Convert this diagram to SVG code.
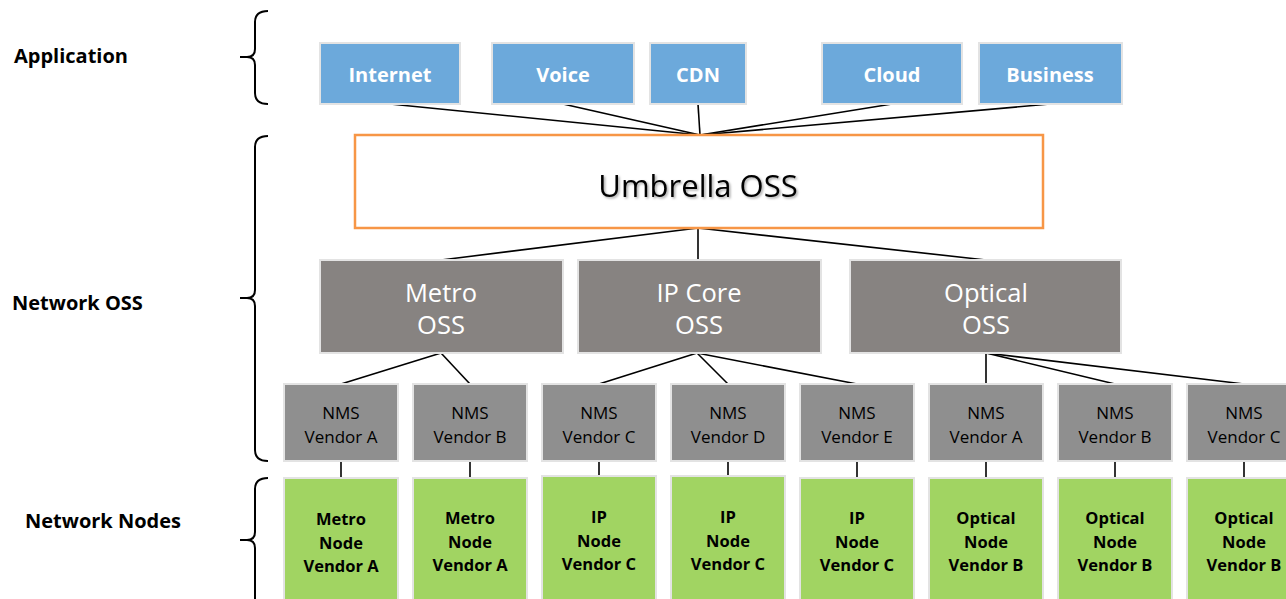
<svg xmlns="http://www.w3.org/2000/svg" width="1286" height="599" viewBox="0 0 1286 599">
<style>
.lbl{font-family:"Open Sans","Liberation Sans",sans-serif;font-weight:bold;font-size:20px;fill:#000}
.app rect{fill:#6CA9DB;stroke:#E3E3E3;stroke-width:2}
.app text{font-family:"Open Sans","Liberation Sans",sans-serif;font-weight:bold;font-size:20px;fill:#fff;text-anchor:middle}
.oss rect{fill:#878381;stroke:#E3E3E3;stroke-width:2}
.oss text{font-family:"Open Sans","Liberation Sans",sans-serif;font-size:25.5px;fill:#fff;text-anchor:middle}
.nms rect{fill:#8F8F8F;stroke:#E3E3E3;stroke-width:2}
.nms text{font-family:"Open Sans","Liberation Sans",sans-serif;font-size:17px;fill:#000;text-anchor:middle}
.node rect{fill:#A1D462;stroke:#E3E3E3;stroke-width:2}
.node text{font-family:"Open Sans","Liberation Sans",sans-serif;font-weight:bold;font-size:16.5px;fill:#000;text-anchor:middle}
.conn line{stroke:#000;stroke-width:1.6}
.brace{fill:none;stroke:#000;stroke-width:2}
</style>
<defs>
<filter id="sh" x="-10%" y="-30%" width="120%" height="160%">
<feDropShadow dx="1.5" dy="1.5" stdDeviation="1" flood-color="#000" flood-opacity="0.35"/>
</filter>
</defs>
<rect width="1286" height="599" fill="#fff"/>

<g id="braces">
<path class="brace" d="M268 11 Q255 11 255 22 L255 49 Q255 57 247 57 L240 57 L247 57 Q255 57 255 65 L255 93 Q255 104 268 104"/>
<path class="brace" d="M268 136 Q255 136 255 147 L255 290 Q255 298 247 298 L240 298 L247 298 Q255 298 255 306 L255 450 Q255 461 268 461"/>
<path class="brace" d="M268 478 Q255 478 255 489 L255 532 Q255 540 247 540 L240 540 L247 540 Q255 540 255 548 L255 610"/>
</g>

<g id="labels">
<text class="lbl" x="14" y="63">Application</text>
<text class="lbl" x="12" y="310">Network OSS</text>
<text class="lbl" x="25" y="528">Network Nodes</text>
</g>

<g id="connectors" class="conn">
<line x1="390" y1="104" x2="700" y2="135"/>
<line x1="563" y1="104" x2="700" y2="135"/>
<line x1="698" y1="104" x2="700" y2="135"/>
<line x1="892" y1="104" x2="700" y2="135"/>
<line x1="1050" y1="104" x2="700" y2="135"/>
<line x1="698" y1="228" x2="441" y2="260"/>
<line x1="698" y1="228" x2="698" y2="260"/>
<line x1="698" y1="228" x2="986" y2="260"/>
<line x1="441" y1="353" x2="341" y2="384"/>
<line x1="441" y1="353" x2="470" y2="384"/>
<line x1="697" y1="353" x2="599" y2="384"/>
<line x1="697" y1="353" x2="728" y2="384"/>
<line x1="697" y1="353" x2="857" y2="384"/>
<line x1="986" y1="353" x2="986" y2="384"/>
<line x1="986" y1="353" x2="1115" y2="384"/>
<line x1="986" y1="353" x2="1244" y2="384"/>
<line x1="341" y1="461" x2="341" y2="478"/>
<line x1="470" y1="461" x2="470" y2="478"/>
<line x1="599" y1="461" x2="599" y2="478"/>
<line x1="728" y1="461" x2="728" y2="478"/>
<line x1="857" y1="461" x2="857" y2="478"/>
<line x1="986" y1="461" x2="986" y2="478"/>
<line x1="1115" y1="461" x2="1115" y2="478"/>
<line x1="1244" y1="461" x2="1244" y2="478"/>
</g>

<g id="app-internet" class="app"><rect x="320" y="43" width="140" height="61"/><text x="390" y="82">Internet</text></g>
<g id="app-voice" class="app"><rect x="492" y="43" width="142" height="61"/><text x="563" y="82">Voice</text></g>
<g id="app-cdn" class="app"><rect x="650" y="43" width="96" height="61"/><text x="698" y="82">CDN</text></g>
<g id="app-cloud" class="app"><rect x="822" y="43" width="140" height="61"/><text x="892" y="82">Cloud</text></g>
<g id="app-business" class="app"><rect x="979" y="43" width="143" height="61"/><text x="1050" y="82">Business</text></g>

<g id="umbrella-oss"><rect x="355" y="135" width="688" height="93" fill="#fff" stroke="#F79646" stroke-width="2.5"/><text x="698" y="197" text-anchor="middle" font-family="Open Sans, Liberation Sans, sans-serif" font-size="31" fill="#000" filter="url(#sh)">Umbrella OSS</text></g>

<g id="metro-oss" class="oss"><rect x="320" y="260" width="243" height="93"/><text x="441" y="302">Metro</text><text x="441" y="334">OSS</text></g>
<g id="ipcore-oss" class="oss"><rect x="578" y="260" width="243" height="93"/><text x="699" y="302">IP Core</text><text x="699" y="334">OSS</text></g>
<g id="optical-oss" class="oss"><rect x="850" y="260" width="271" height="93"/><text x="986" y="302">Optical</text><text x="986" y="334">OSS</text></g>

<g id="nms-1" class="nms"><rect x="284" y="384" width="114" height="77"/><text x="341" y="419">NMS</text><text x="341" y="443">Vendor A</text></g>
<g id="nms-2" class="nms"><rect x="413" y="384" width="114" height="77"/><text x="470" y="419">NMS</text><text x="470" y="443">Vendor B</text></g>
<g id="nms-3" class="nms"><rect x="542" y="384" width="114" height="77"/><text x="599" y="419">NMS</text><text x="599" y="443">Vendor C</text></g>
<g id="nms-4" class="nms"><rect x="671" y="384" width="114" height="77"/><text x="728" y="419">NMS</text><text x="728" y="443">Vendor D</text></g>
<g id="nms-5" class="nms"><rect x="800" y="384" width="114" height="77"/><text x="857" y="419">NMS</text><text x="857" y="443">Vendor E</text></g>
<g id="nms-6" class="nms"><rect x="929" y="384" width="114" height="77"/><text x="986" y="419">NMS</text><text x="986" y="443">Vendor A</text></g>
<g id="nms-7" class="nms"><rect x="1058" y="384" width="114" height="77"/><text x="1115" y="419">NMS</text><text x="1115" y="443">Vendor B</text></g>
<g id="nms-8" class="nms"><rect x="1187" y="384" width="114" height="77"/><text x="1244" y="419">NMS</text><text x="1244" y="443">Vendor C</text></g>

<g id="node-1" class="node"><rect x="284" y="478" width="114" height="130"/><text x="341" y="525">Metro</text><text x="341" y="549">Node</text><text x="341" y="572">Vendor A</text></g>
<g id="node-2" class="node"><rect x="413" y="478" width="114" height="130"/><text x="470" y="524">Metro</text><text x="470" y="548">Node</text><text x="470" y="571">Vendor A</text></g>
<g id="node-3" class="node"><rect x="542" y="476" width="114" height="132"/><text x="599" y="523">IP</text><text x="599" y="547">Node</text><text x="599" y="570">Vendor C</text></g>
<g id="node-4" class="node"><rect x="671" y="476" width="114" height="132"/><text x="728" y="523">IP</text><text x="728" y="547">Node</text><text x="728" y="570">Vendor C</text></g>
<g id="node-5" class="node"><rect x="800" y="478" width="114" height="130"/><text x="857" y="524">IP</text><text x="857" y="548">Node</text><text x="857" y="571">Vendor C</text></g>
<g id="node-6" class="node"><rect x="929" y="478" width="114" height="130"/><text x="986" y="524">Optical</text><text x="986" y="548">Node</text><text x="986" y="571">Vendor B</text></g>
<g id="node-7" class="node"><rect x="1058" y="478" width="114" height="130"/><text x="1115" y="524">Optical</text><text x="1115" y="548">Node</text><text x="1115" y="571">Vendor B</text></g>
<g id="node-8" class="node"><rect x="1187" y="478" width="114" height="130"/><text x="1244" y="524">Optical</text><text x="1244" y="548">Node</text><text x="1244" y="571">Vendor B</text></g>
</svg>
